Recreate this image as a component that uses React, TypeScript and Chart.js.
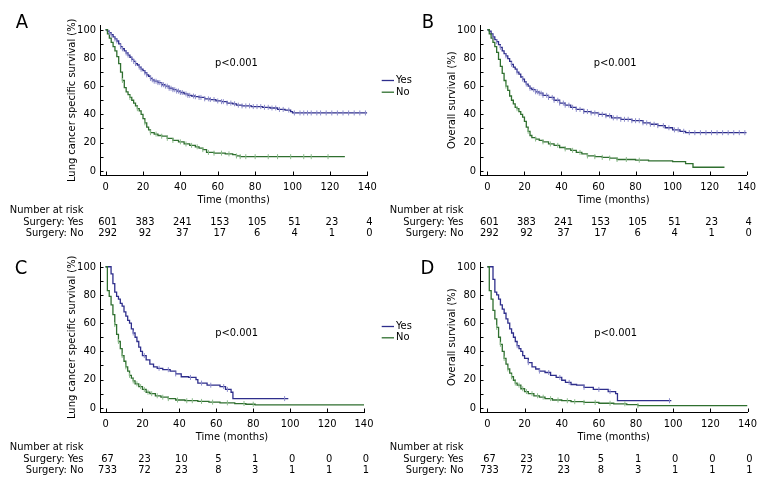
import React, { useEffect, useRef } from "react";
import { Chart, registerables } from "chart.js";

Chart.register(...registerables);

const FONT = "'Liberation Sans Narrow', 'DejaVu Sans Condensed', 'Arial Narrow', sans-serif";
const FS = 11;

// ---- axes / labels ----
const X_TICKS = [0, 20, 40, 60, 80, 100, 120, 140];
const Y_TICKS = [0, 20, 40, 60, 80, 100];
const Y_MINOR = [0, 10, 20, 30, 40, 50, 60, 70, 80, 90, 100];
const X_TITLE = "Time (months)";
const Y_TITLE_LCSS = "Lung cancer specific survival (%)";
const Y_TITLE_OS = "Overall survival (%)";
const GROUPS = ["Yes", "No"];
const RISK_HEADER = "Number at risk";
const RISK_LABELS = ["Surgery: Yes", "Surgery: No"];
const RISK_TIMES = [0, 20, 40, 60, 80, 100, 120, 140];
const P_TEXT = "p<0.001";

// ---- Panel A: lung cancer specific survival ----
const A_YES_T = [0,1,2,3,4,5,6,7,8,9,10,11,12,13,14,15,16,17,18,19,20,21,22,23,24,25,26,28,30,32,34,36,38,40,42,44,46,48,50,53,56,59,62,65,68,70,73,78,84,88,92,96,99,100,140];
const A_YES_S = [100,99,98,96.5,95,93.5,92,90,88,86.5,85,83.5,82,80.5,79,77.5,76,75,73.5,72,71,69.5,68,67,65.5,64.5,63.5,62.5,61,60,58.5,57.5,56.5,55.5,54.5,53.5,53,52.5,52,51,50.5,49.5,49,48,47.5,46.5,46,45.5,45,44.5,43.5,43,42,41,41];
const A_YES_C = [2,3,5,6,8,9,11,12,14,15,16,18,19,21,22,24,25,26,27,28,29,30,31,32,33,34,35,36,37,38,39,40,41,43,44,45,47,48,50,51,53,55,56,58,60,62,63,65,67,69,71,73,75,77,79,81,83,85,87,89,91,93,95,98,101,104,106,108,110,113,115,118,121,124,127,130,133,136,139];
const A_NO_T = [0,1,2,3,4,5,6,7,8,9,10,11,12,13,14,15,16,17,18,19,20,21,22,23,24,26,28,30,33,36,39,42,45,48,50,52,54,58,64,68,70,72,128];
const A_NO_S = [100,97,94,91,88,85,81,76,70,64,59,56,54,52,50,48,46,44,42.5,40,37,34,31,29,27,26,25,24.5,23,21.5,20.5,19,18,17,16,15,13,12.5,12,11.5,10.5,10,10];
const A_NO_C = [9,13,17,21,24,27,30,33,36,40,43,46,49,52,55,58,62,66,70,72,75,80,87,92,99,106,110,119];
const A_RISK_YES = [601, 383, 241, 153, 105, 51, 23, 4];
const A_RISK_NO = [292, 92, 37, 17, 6, 4, 1, 0];

// ---- Panel B: overall survival ----
const B_YES_T = [0,1,2,3,4,5,6,7,8,9,10,11,12,13,14,15,16,17,18,19,20,21,22,23,24,26,28,30,33,36,39,42,45,48,52,56,60,64,67,72,78,84,88,92,96,100,104,107,140];
const B_YES_S = [100,99,97,95,93,91.5,89.5,87.5,85,83,81.5,79.5,77.5,75.5,73.5,72,70,68.5,66.5,65,63,61.5,60,58.5,57.5,56,55,53.5,52,50,48,46.5,45,43.5,42,41,40,39,37.5,36.5,35.5,34,33,32,30.5,29,28,27,27];
const B_YES_C = [3,5,7,10,13,16,19,21,23,25,26,27,28,29,30,32,33,35,36,38,39,41,42,44,46,48,50,52,54,56,58,60,62,64,66,68,70,72,74,76,78,80,82,84,86,88,90,92,95,98,101,103,106,109,112,115,118,121,124,127,130,133,136,139];
const B_NO_T = [0,1,2,3,4,5,6,7,8,9,10,11,12,13,14,15,16,17,18,19,20,21,22,23,24,26,28,30,33,36,39,42,45,48,51,54,58,62,66,70,80,87,100,107,111,128];
const B_NO_S = [100,97,94,91,88,84,79,74,69,64,60,57,53,50,47.5,45,44,42,40,38,35,31,28,25,23.5,22.5,21.5,20.5,19,18,16.5,15.5,14.5,13,12,10.5,10,9.5,9,8,7.5,7,6.5,5,2.5,2.5];
const B_NO_C = [10,16,22,26,30,34,38,42,46,50,54,58,62,66,70,75,82];
const B_RISK_YES = [601, 383, 241, 153, 105, 51, 23, 4];
const B_RISK_NO = [292, 92, 37, 17, 6, 4, 1, 0];

// ---- Panel C: lung cancer specific survival ----
const C_YES_T = [0,3,4,5,6,7,8,9,10,11,12,13,14,15,16,17,18,19,20,22,24,26,28,31,35,38,41,45,49,50,55,62,65,68,69,99];
const C_YES_S = [100,95,88,82,79,77,74,72,68,65,62,60,56,53,50,47,43,40,37,34,31,29,28,27,26,24,22,21.5,20,17.5,16,15,13,11,6.5,6.5];
const C_YES_C = [15,21,29,34,38,46,52,57,64,66,97];
const C_NO_T = [0,1,2,3,4,5,6,7,8,9,10,11,12,13,14,15,16,18,20,22,24,27,30,34,38,43,50,56,62,70,76,81,140];
const C_NO_S = [100,83,79,73,66,59,52,47,42,37,33,29,26,23,21,19,17,15,13,11,10,8.5,7.5,6.5,5.5,5,4.5,4,3.5,3,2.5,2,2];
const C_NO_C = [5,7,9,11,13,15,17,19,21,23,25,28,31,34,39,44,47,52,58,66,75,80];
const C_RISK_YES = [67, 23, 10, 5, 1, 0, 0, 0];
const C_RISK_NO = [733, 72, 23, 8, 3, 1, 1, 1];

// ---- Panel D: overall survival ----
const D_YES_T = [0,3,4,5,6,7,8,9,10,11,12,13,14,15,16,17,18,19,20,22,24,26,28,31,34,37,40,42,45,48,52,57,65,69,70,99];
const D_YES_S = [100,91,82,80,77,73,70,67,63,60,56,53,50,47,44,42,40,37,35,32,29,27.5,26,25,23,21.5,19.5,18,16.5,16,14.5,13,11.5,10,5,5];
const D_YES_C = [16,22,28,33,39,44,52,60,66,98];
const D_NO_T = [0,1,2,3,4,5,6,7,8,9,10,11,12,13,14,15,16,18,20,22,25,28,31,35,40,45,52,60,68,75,81,140];
const D_NO_S = [100,83,77,69,63,57,50,45,40,35,31,27.5,24.5,22,19.5,17.5,16,13.5,11.5,10,8.5,7.5,6.5,5.5,5,4.3,3.8,3.2,2.8,2.3,1.5,1.5];
const D_NO_C = [5,7,9,11,13,15,17,19,21,24,27,30,34,38,43,47,52,58,66,74,81];
const D_RISK_YES = [67, 23, 10, 5, 1, 0, 0, 0];
const D_RISK_NO = [733, 72, 23, 8, 3, 1, 1, 1];

// ---- styles ----
const BLUE = "#2e2e8c";
const BLUE_LIGHT = "#8e8ecc";
const GREEN = "#2f6f2f";
const GREEN_LIGHT = "#8cbc8c";

function stepAt(T: number[], S: number[], t: number) {
  let v = S[0];
  for (let i = 0; i < T.length; i++) {
    if (T[i] <= t) v = S[i];
    else break;
  }
  return v;
}

type PanelCfg = {
  x: number; y: number; W: number; H: number;
  left: number; top: number; right: number; bottom: number; xMin: number;
  letter: string; letterX: number; letterY: number;
  pX: number; pY: number;
  yTitle: string;
  legend?: { x1: number; x2: number; tx: number; y1: number; y2: number };
  yesT: number[]; yesS: number[]; yesC: number[];
  noT: number[]; noS: number[]; noC: number[];
  riskYes: number[]; riskNo: number[];
};

const PANELS: PanelCfg[] = [
  {
    x: 0, y: 0, W: 430, H: 250, left: 100, top: 25.5, right: 367.3, bottom: 175, xMin: -3,
    letter: "A", letterX: 22, letterY: 22.5, pX: 70, pY: 76.5, yTitle: Y_TITLE_LCSS,
    legend: { x1: 381.7, x2: 394, tx: 396, y1: 80, y2: 91.7 },
    yesT: A_YES_T, yesS: A_YES_S, yesC: A_YES_C, noT: A_NO_T, noS: A_NO_S, noC: A_NO_C,
    riskYes: A_RISK_YES, riskNo: A_RISK_NO,
  },
  {
    x: 380, y: 0, W: 400, H: 250, left: 100, top: 25.5, right: 366.7, bottom: 175, xMin: -4,
    letter: "B", letterX: 48, letterY: 22.5, pX: 69, pY: 76.5, yTitle: Y_TITLE_OS,
    yesT: B_YES_T, yesS: B_YES_S, yesC: B_YES_C, noT: B_NO_T, noS: B_NO_S, noC: B_NO_C,
    riskYes: B_RISK_YES, riskNo: B_RISK_NO,
  },
  {
    x: 0, y: 237, W: 430, H: 250, left: 100, top: 25.5, right: 364, bottom: 175, xMin: -3,
    letter: "C", letterX: 21, letterY: 32, pX: 71, pY: 53, yTitle: Y_TITLE_LCSS,
    legend: { x1: 381.7, x2: 394, tx: 396, y1: 89, y2: 100.3 },
    yesT: C_YES_T, yesS: C_YES_S, yesC: C_YES_C, noT: C_NO_T, noS: C_NO_S, noC: C_NO_C,
    riskYes: C_RISK_YES, riskNo: C_RISK_NO,
  },
  {
    x: 380, y: 237, W: 400, H: 250, left: 100, top: 25.5, right: 367.5, bottom: 175, xMin: -4,
    letter: "D", letterX: 47.5, letterY: 32, pX: 69, pY: 53, yTitle: Y_TITLE_OS,
    yesT: D_YES_T, yesS: D_YES_S, yesC: D_YES_C, noT: D_NO_T, noS: D_NO_S, noC: D_NO_C,
    riskYes: D_RISK_YES, riskNo: D_RISK_NO,
  },
];

function Panel({ cfg }: { cfg: PanelCfg }) {
  const ref = useRef<HTMLCanvasElement | null>(null);

  useEffect(() => {
    if (!ref.current) return;
    const Y_AXIS_W = 40;
    const X_AXIS_H = 40;
    const font = (size: number) => ({ family: FONT, size });

    const decor = {
      id: "kmDecor",
      afterDraw(chart: any) {
        const ctx = chart.ctx as CanvasRenderingContext2D;
        const { left, bottom } = chart.chartArea;
        const xs = chart.scales.x;
        const ys = chart.scales.y;
        ctx.save();
        // inward tick marks
        ctx.strokeStyle = "#000";
        ctx.lineWidth = 1;
        Y_MINOR.forEach((v) => {
          const py = Math.round(ys.getPixelForValue(v)) + 0.5;
          ctx.beginPath();
          ctx.moveTo(left, py);
          ctx.lineTo(left + 3.5, py);
          ctx.stroke();
        });
        X_TICKS.forEach((v) => {
          const px = Math.round(xs.getPixelForValue(v)) + 0.5;
          ctx.beginPath();
          ctx.moveTo(px, bottom);
          ctx.lineTo(px, bottom - 3.5);
          ctx.stroke();
        });
        ctx.fillStyle = "#000";
        ctx.textBaseline = "middle";
        // panel letter
        ctx.textAlign = "center";
        ctx.font = `20px ${FONT}`;
        ctx.fillText(cfg.letter, cfg.letterX, cfg.letterY);
        // p value
        ctx.font = `${FS}px ${FONT}`;
        ctx.fillText(P_TEXT, xs.getPixelForValue(cfg.pX), ys.getPixelForValue(cfg.pY));
        // legend
        if (cfg.legend) {
          const lg = cfg.legend;
          [[BLUE, lg.y1], [GREEN, lg.y2]].forEach(([c, yy], i) => {
            ctx.strokeStyle = c as string;
            ctx.lineWidth = 1.3;
            ctx.beginPath();
            ctx.moveTo(lg.x1, (yy as number) + 0.5);
            ctx.lineTo(lg.x2, (yy as number) + 0.5);
            ctx.stroke();
            ctx.fillStyle = "#000";
            ctx.textAlign = "left";
            ctx.fillText(GROUPS[i], lg.tx, yy as number);
          });
        }
        // risk table
        ctx.fillStyle = "#000";
        ctx.textAlign = "right";
        const labX = left - 16.5;
        ctx.fillText(RISK_HEADER, labX, bottom + 35.5);
        ctx.fillText(RISK_LABELS[0], labX, bottom + 47.5);
        ctx.fillText(RISK_LABELS[1], labX, bottom + 58.5);
        ctx.textAlign = "center";
        RISK_TIMES.forEach((t, i) => {
          const px = xs.getPixelForValue(t) + 2;
          ctx.fillText(String(cfg.riskYes[i]), px, bottom + 47.5);
          ctx.fillText(String(cfg.riskNo[i]), px, bottom + 58.5);
        });
        ctx.restore();
      },
    };

    const line = (T: number[], S: number[], color: string, label: string) => ({
      type: "line" as const,
      label,
      data: T.map((t, i) => ({ x: t, y: S[i] })),
      stepped: "before" as const,
      borderColor: color,
      borderWidth: 1.3,
      pointRadius: 0,
      fill: false,
      order: 2,
    });
    const censor = (C: number[], T: number[], S: number[], color: string, label: string) => ({
      type: "line" as const,
      label,
      data: C.map((t) => ({ x: t, y: stepAt(T, S, t) })),
      showLine: false,
      pointStyle: "line" as const,
      rotation: 90,
      pointRadius: 2.5,
      pointBorderColor: color,
      pointBorderWidth: 1,
      borderColor: color,
      order: 1,
    });

    const chart = new Chart(ref.current, {
      type: "line",
      data: {
        datasets: [
          line(cfg.noT, cfg.noS, GREEN, "No"),
          line(cfg.yesT, cfg.yesS, BLUE, "Yes"),
          censor(cfg.noC, cfg.noT, cfg.noS, GREEN_LIGHT, "No censored"),
          censor(cfg.yesC, cfg.yesT, cfg.yesS, BLUE_LIGHT, "Yes censored"),
        ],
      } as any,
      options: {
        responsive: false,
        animation: false,
        devicePixelRatio: 1,
        layout: {
          padding: {
            left: cfg.left - Y_AXIS_W,
            top: cfg.top,
            right: cfg.W - cfg.right,
            bottom: cfg.H - cfg.bottom - X_AXIS_H,
          },
        },
        plugins: {
          legend: { display: false },
          tooltip: { enabled: false },
          title: { display: false },
        },
        scales: {
          x: {
            type: "linear",
            min: cfg.xMin,
            max: 140,
            afterFit: (s: any) => { s.height = X_AXIS_H; },
            afterBuildTicks: (s: any) => { s.ticks = X_TICKS.map((v) => ({ value: v })); },
            grid: { display: false, drawTicks: false },
            border: { display: true, color: "#000", width: 1 },
            ticks: { color: "#000", font: font(FS), padding: 5.5, maxRotation: 0, autoSkip: false },
            title: { display: true, text: X_TITLE, color: "#000", font: font(FS), padding: { top: 0, bottom: 8.5 } },
          },
          y: {
            type: "linear",
            min: -3,
            max: 103,
            afterFit: (s: any) => { s.width = Y_AXIS_W; },
            afterBuildTicks: (s: any) => { s.ticks = Y_TICKS.map((v) => ({ value: v })); },
            grid: { display: false, drawTicks: false },
            border: { display: true, color: "#000", width: 1 },
            ticks: { color: "#000", font: font(FS), padding: 4, autoSkip: false },
            title: { display: true, text: cfg.yTitle, color: "#000", font: font(FS), padding: { top: 5.4, bottom: 0 } },
          },
        },
      } as any,
      plugins: [decor],
    });
    return () => chart.destroy();
  }, [cfg]);

  return (
    <canvas
      ref={ref}
      width={cfg.W}
      height={cfg.H}
      style={{ position: "absolute", left: cfg.x, top: cfg.y, width: cfg.W, height: cfg.H }}
    />
  );
}

export default function App() {
  return (
    <div style={{ position: "fixed", left: 0, top: 0, width: 780, height: 504, background: "#fff", overflow: "hidden" }}>
      {PANELS.map((p) => (
        <Panel key={p.letter} cfg={p} />
      ))}
    </div>
  );
}
